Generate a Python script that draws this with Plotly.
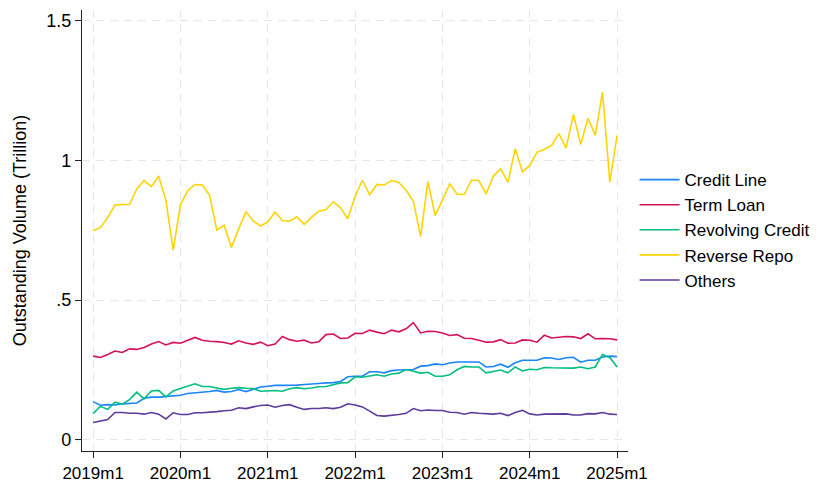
import plotly.graph_objects as go

# months since 2019m1 (0 .. 72)
months = list(range(73))
tick_vals = [0, 12, 24, 36, 48, 60, 72]
tick_text = ["2019m1", "2020m1", "2021m1", "2022m1", "2023m1", "2024m1", "2025m1"]
y_tick_vals = [0, 0.5, 1, 1.5]
y_tick_text = ["0", ".5", "1", "1.5"]

credit_line = [0.136, 0.123, 0.125, 0.124, 0.128, 0.130, 0.131, 0.148, 0.152, 0.152, 0.155, 0.158,
               0.159, 0.165, 0.167, 0.168, 0.172, 0.176, 0.170, 0.172, 0.179, 0.172, 0.179, 0.188,
               0.191, 0.194, 0.194, 0.194, 0.195, 0.197, 0.200, 0.201, 0.203, 0.204, 0.208, 0.225,
               0.227, 0.227, 0.243, 0.243, 0.239, 0.247, 0.249, 0.251, 0.251, 0.263, 0.265, 0.271,
               0.268, 0.274, 0.278, 0.278, 0.278, 0.278, 0.260, 0.262, 0.270, 0.259, 0.275, 0.284,
               0.284, 0.284, 0.293, 0.292, 0.287, 0.293, 0.295, 0.277, 0.284, 0.284, 0.296, 0.299,
               0.297]

term_loan = [0.299, 0.294, 0.305, 0.317, 0.312, 0.325, 0.323, 0.330, 0.342, 0.351, 0.339, 0.348,
             0.345, 0.355, 0.366, 0.356, 0.352, 0.351, 0.348, 0.342, 0.354, 0.346, 0.341, 0.349,
             0.336, 0.342, 0.369, 0.358, 0.352, 0.356, 0.346, 0.350, 0.376, 0.378, 0.362, 0.364,
             0.381, 0.380, 0.392, 0.385, 0.379, 0.392, 0.386, 0.397, 0.419, 0.382, 0.388, 0.387,
             0.382, 0.373, 0.376, 0.363, 0.362, 0.356, 0.349, 0.350, 0.358, 0.345, 0.346, 0.357,
             0.356, 0.349, 0.374, 0.364, 0.366, 0.369, 0.368, 0.362, 0.379, 0.361, 0.362, 0.361,
             0.357]

revolving_credit = [0.094, 0.119, 0.108, 0.134, 0.127, 0.143, 0.170, 0.146, 0.174, 0.176, 0.153, 0.174,
                    0.183, 0.191, 0.200, 0.190, 0.190, 0.185, 0.180, 0.184, 0.186, 0.184, 0.183, 0.173,
                    0.175, 0.176, 0.173, 0.182, 0.186, 0.182, 0.185, 0.189, 0.190, 0.197, 0.203, 0.204,
                    0.225, 0.223, 0.227, 0.232, 0.227, 0.235, 0.238, 0.251, 0.245, 0.238, 0.241, 0.227,
                    0.227, 0.232, 0.250, 0.262, 0.260, 0.260, 0.239, 0.244, 0.249, 0.239, 0.260, 0.246,
                    0.252, 0.250, 0.258, 0.257, 0.257, 0.258, 0.256, 0.260, 0.254, 0.260, 0.305, 0.294,
                    0.260]

reverse_repo = [0.749, 0.759, 0.795, 0.840, 0.842, 0.842, 0.898, 0.928, 0.906, 0.944, 0.857, 0.679,
                0.842, 0.892, 0.914, 0.912, 0.875, 0.750, 0.768, 0.688, 0.755, 0.816, 0.783, 0.765,
                0.780, 0.815, 0.785, 0.782, 0.798, 0.771, 0.796, 0.818, 0.824, 0.852, 0.830, 0.791,
                0.872, 0.929, 0.877, 0.914, 0.912, 0.928, 0.921, 0.894, 0.854, 0.728, 0.924, 0.803,
                0.858, 0.916, 0.880, 0.878, 0.930, 0.928, 0.880, 0.944, 0.970, 0.922, 1.042, 0.959,
                0.982, 1.030, 1.039, 1.054, 1.096, 1.044, 1.165, 1.057, 1.151, 1.090, 1.245, 0.922,
                1.090]

others = [0.061, 0.066, 0.072, 0.097, 0.097, 0.094, 0.094, 0.091, 0.097, 0.091, 0.074, 0.096,
          0.090, 0.090, 0.096, 0.096, 0.097, 0.100, 0.103, 0.105, 0.114, 0.111, 0.117, 0.122,
          0.124, 0.116, 0.122, 0.125, 0.116, 0.108, 0.111, 0.111, 0.114, 0.111, 0.116, 0.128,
          0.124, 0.117, 0.102, 0.086, 0.084, 0.086, 0.090, 0.094, 0.111, 0.103, 0.106, 0.104,
          0.104, 0.098, 0.097, 0.091, 0.097, 0.094, 0.092, 0.091, 0.094, 0.086, 0.097, 0.105,
          0.092, 0.088, 0.091, 0.092, 0.091, 0.092, 0.088, 0.088, 0.093, 0.092, 0.097, 0.091,
          0.090]

series = [
    ("Credit Line", credit_line, "#1a85ff"),
    ("Term Loan", term_loan, "#d41159"),
    ("Revolving Credit", revolving_credit, "#00bf7f"),
    ("Reverse Repo", reverse_repo, "#ffd400"),
    ("Others", others, "#5d3a9b"),
]

fig = go.Figure()
for name, vals, color in series:
    fig.add_trace(go.Scatter(x=months, y=vals, name=name, mode="lines",
                             line=dict(color=color, width=1.6)))

font_family = "Liberation Sans, Arial, sans-serif"
# the page body adds an 8px offset, so the figure is 8px smaller and margins compensate
fig.update_layout(
    width=812, height=474,
    margin=dict(l=74, r=192, t=2, b=31, autoexpand=False),
    paper_bgcolor="white", plot_bgcolor="white",
    font=dict(family=font_family, size=16, color="black"),
    showlegend=True,
    legend=dict(x=1.012, y=0.501, xanchor="left", yanchor="middle",
                font=dict(size=17, color="black"), bgcolor="rgba(0,0,0,0)",
                itemwidth=40),
    xaxis=dict(range=[-1.53, 73.5], tickvals=tick_vals, ticktext=tick_text,
               showgrid=True, gridcolor="#e6e6e6", griddash="8px,6px", gridwidth=1,
               zeroline=False, showline=True, linecolor="#222222", linewidth=1.2,
               ticks="outside", ticklen=6, tickcolor="#222222",
               tickfont=dict(size=17), automargin=False),
    yaxis=dict(range=[-0.041, 1.539], tickvals=y_tick_vals, ticktext=y_tick_text,
               showgrid=True, gridcolor="#e6e6e6", griddash="8px,6px", gridwidth=1,
               zeroline=False, showline=True, linecolor="#222222", linewidth=1.2,
               ticks="outside", ticklen=6, tickcolor="#222222",
               tickfont=dict(size=18), automargin=False,
               title=dict(text="Outstanding Volume (Trillion)", font=dict(size=18), standoff=14)),
)

fig.write_html("out.html")
